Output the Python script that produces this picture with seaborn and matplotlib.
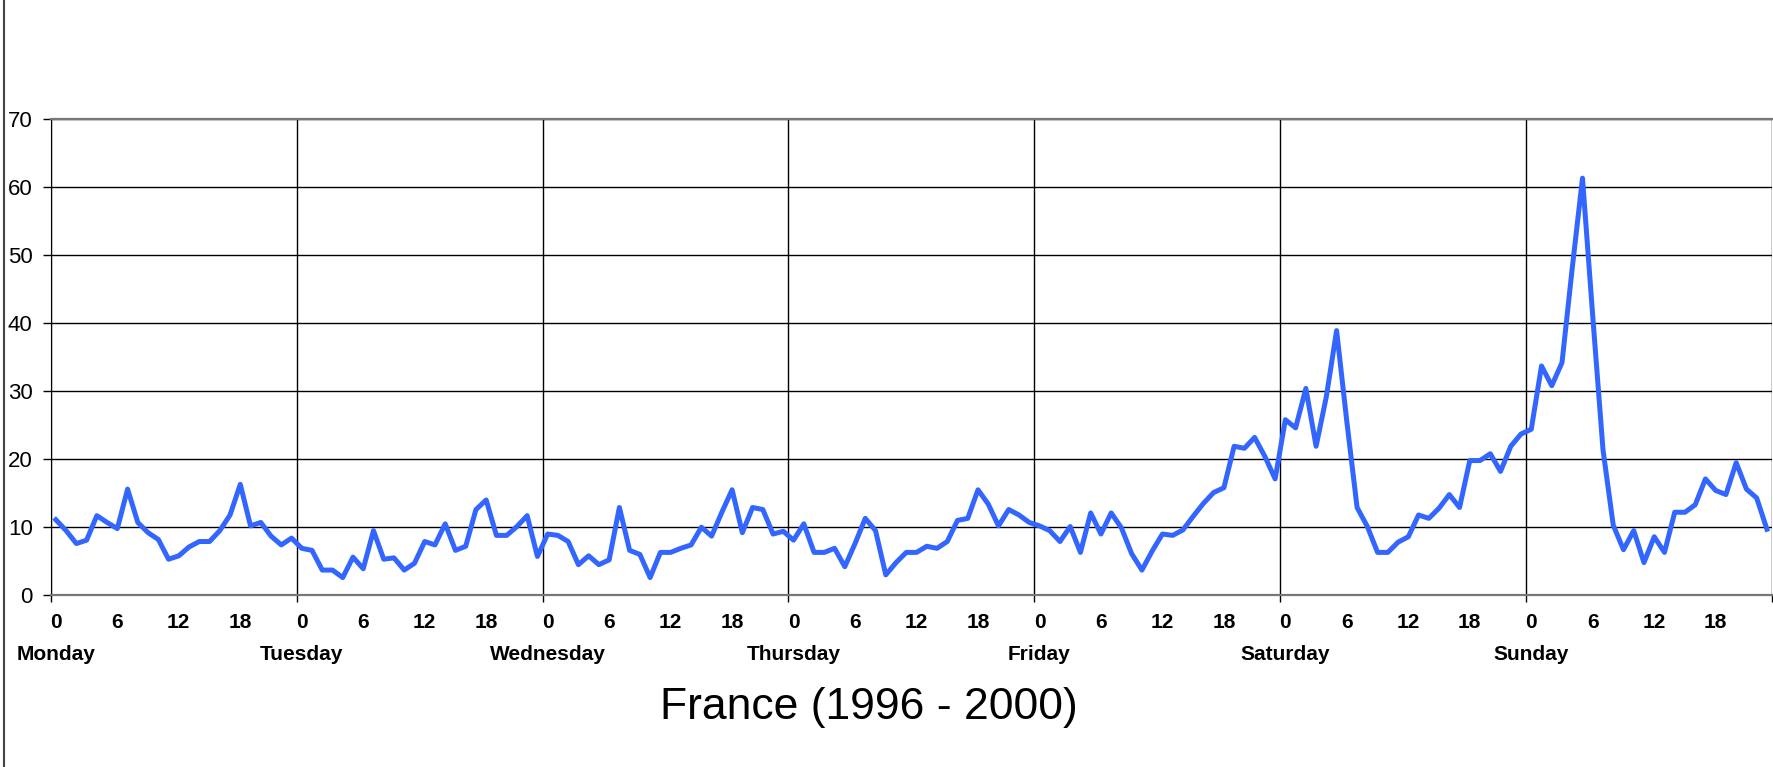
import numpy as np
import pandas as pd
import seaborn as sns
import matplotlib.pyplot as plt
from matplotlib.lines import Line2D
from matplotlib.transforms import blended_transform_factory

plt.rcParams['font.family'] = ['Liberation Sans', 'DejaVu Sans']

# hourly values, hour 0..23 for each day
days = ['Monday', 'Tuesday', 'Wednesday', 'Thursday', 'Friday', 'Saturday', 'Sunday']
monday = [11.1, 9.5, 7.6, 8.1, 11.7, 10.7, 9.8, 15.6, 10.7, 9.2, 8.2, 5.3,
          5.8, 7.1, 7.9, 7.9, 9.5, 11.8, 16.3, 10.2, 10.7, 8.7, 7.4, 8.4]
tuesday = [6.9, 6.6, 3.7, 3.7, 2.6, 5.6, 3.9, 9.5, 5.3, 5.5, 3.7, 4.7,
           7.9, 7.4, 10.5, 6.6, 7.2, 12.6, 14.0, 8.8, 8.8, 10.1, 11.7, 5.7]
wednesday = [9.0, 8.8, 7.9, 4.5, 5.8, 4.5, 5.2, 12.9, 6.6, 6.0, 2.6, 6.3,
             6.3, 6.9, 7.4, 10.0, 8.7, 12.2, 15.5, 9.2, 12.9, 12.6, 9.0, 9.4]
thursday = [8.1, 10.5, 6.3, 6.3, 6.9, 4.2, 7.6, 11.3, 9.5, 3.0, 4.8, 6.3,
            6.3, 7.2, 6.9, 7.9, 11.0, 11.3, 15.5, 13.4, 10.2, 12.6, 11.8, 10.7]
friday = [10.2, 9.5, 7.9, 10.1, 6.3, 12.1, 9.0, 12.1, 9.9, 6.1, 3.7, 6.5,
          9.0, 8.8, 9.6, 11.6, 13.5, 15.1, 15.8, 21.9, 21.6, 23.2, 20.4, 17.1]
saturday = [25.8, 24.6, 30.4, 21.9, 29.2, 38.9, 25.5, 12.9, 10.1, 6.3, 6.3, 7.8,
            8.6, 11.8, 11.3, 12.8, 14.8, 12.9, 19.8, 19.8, 20.8, 18.2, 21.9, 23.7]
sunday = [24.4, 33.7, 30.8, 34.2, 48.1, 61.3, 41.0, 21.4, 10.3, 6.7, 9.5, 4.8,
          8.6, 6.3, 12.2, 12.2, 13.3, 17.1, 15.4, 14.8, 19.5, 15.6, 14.3, 9.7]
hour_labels = [0, 6, 12, 18]
title = 'France (1996 - 2000)'

values = monday + tuesday + wednesday + thursday + friday + saturday + sunday
df = pd.DataFrame({'hour': np.arange(len(values)), 'value': values})

fig = plt.figure(figsize=(17.74, 7.67), dpi=100)
ax = fig.add_axes([0.0286, 0.2239, 0.9703, 0.621])

sns.lineplot(data=df, x='hour', y='value', ax=ax, color='#3366ff', linewidth=3.6)

ax.set_xlim(-0.5, len(values) - 0.5)
ax.set_ylim(0, 70)
ax.set_yticks(range(0, 71, 10))
ax.set_xlabel('')
ax.set_ylabel('')

# hour labels on each day
ticks = [d * 24 + h for d in range(len(days)) for h in hour_labels]
ax.set_xticks(ticks)
ax.set_xticklabels([str(h) for d in range(len(days)) for h in hour_labels],
                   fontsize=15, fontweight='bold')
ax.tick_params(axis='x', which='major', length=0, pad=13)
ax.set_xticks(np.arange(-0.5, len(values), 24), minor=True)
ax.tick_params(axis='x', which='minor', length=5, width=1, direction='out')
ax.tick_params(axis='y', length=6, width=1, labelsize=16, pad=7)

# day names under the 0 labels
trans = blended_transform_factory(ax.transData, ax.transAxes)
for d, name in enumerate(days):
    ax.text(d * 24, -0.125, name, transform=trans, fontsize=15,
            fontweight='bold', ha='center', va='center')

ax.grid(axis='y', color='black', linewidth=1)
ax.grid(axis='x', which='minor', color='black', linewidth=1)
ax.set_axisbelow(True)

ax.spines['right'].set_visible(False)
ax.spines['top'].set_color('#777777')
ax.spines['top'].set_linewidth(1.6)
ax.spines['bottom'].set_color('#777777')
ax.spines['bottom'].set_linewidth(1.6)
ax.spines['left'].set_color('black')

fig.text(0.49, 0.077, title, fontsize=32, ha='center', va='center')
fig.add_artist(Line2D([0.0025, 0.0025], [0, 1], color='#444444', linewidth=1.5,
                      transform=fig.transFigure))

fig.savefig('out.png', dpi=100)
